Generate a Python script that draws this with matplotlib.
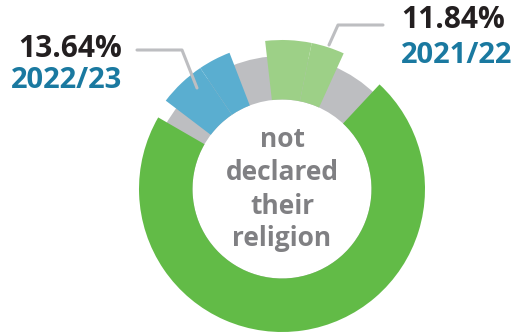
"""Donut chart: share of pupils who have not declared their religion."""

import matplotlib.pyplot as plt

# segment shares (percent of the ring), clockwise from the light-green wedge
SEGMENTS = ["2021/22 a", "2021/22 b", "gap1", "main", "gap2", "2022/23 a", "2022/23 b", "gap3"]
SHARES = [5.0, 3.6, 5.15, 71.4, 2.0, 5.2, 3.6, 4.05]
COLORS = {
    "2021/22": "#9dd087",
    "main": "#62bb47",
    "2022/23": "#5aaed0",
}
OUTER_R = {"2021/22": 149, "main": 143, "2022/23": 146}

LABEL_VALUES = ["13.64%", "11.84%"]
LABEL_YEARS = ["2022/23", "2021/22"]

GRAY = "#bdbec1"
TEAL = "#1a79a0"
CENTER_TEXT = ["not", "declared", "their", "religion"]

W, H = 513, 333
CX, CY = 282, H - 189
INNER_R = 89.5
START = 96.5

fig = plt.figure(figsize=(W / 100, H / 100), dpi=100)
ax = fig.add_axes([0, 0, 1, 1])

# gray background ring
ax.pie([1], radius=133, center=(CX, CY), colors=[GRAY],
       wedgeprops=dict(width=133 - INNER_R, linewidth=0))

# coloured wedges, each on its own radius
for key in ["main", "2022/23", "2021/22"]:
    cols = []
    for s in SEGMENTS:
        cols.append(COLORS[key] if s.startswith(key) else "none")
    r = OUTER_R[key]
    ax.pie(SHARES, radius=r, center=(CX, CY), colors=cols,
           startangle=START, counterclock=False,
           wedgeprops=dict(width=r - INNER_R, linewidth=0))

ax.set_xlim(0, W)
ax.set_ylim(0, H)
ax.set_aspect("equal")
ax.axis("off")

# leader lines
ax.plot([137, 182, 197], [H - 50, H - 50, H - 88], color=GRAY, lw=2.2,
        solid_capstyle="round")
ax.plot([329, 338, 383], [H - 45, H - 25, H - 25], color=GRAY, lw=2.2,
        solid_capstyle="round")

font = "Open Sans"
ax.text(122, H - 57, LABEL_VALUES[0], ha="right", va="baseline", fontsize=21.5,
        fontweight="bold", color="#231f20", family=font)
ax.text(122, H - 88, LABEL_YEARS[0], ha="right", va="baseline", fontsize=21,
        fontweight="bold", color=TEAL, family=font)
ax.text(401, H - 28, LABEL_VALUES[1], ha="left", va="baseline", fontsize=21.5,
        fontweight="bold", color="#231f20", family=font)
ax.text(401, H - 63, LABEL_YEARS[1], ha="left", va="baseline", fontsize=21,
        fontweight="bold", color=TEAL, family=font)

for line, base in zip(CENTER_TEXT, [147, 180, 214, 246]):
    ax.text(CX, H - base, line, ha="center", va="baseline", fontsize=19,
            fontweight="bold", color="#808083", family=font)

fig.savefig("out.png", dpi=100)
